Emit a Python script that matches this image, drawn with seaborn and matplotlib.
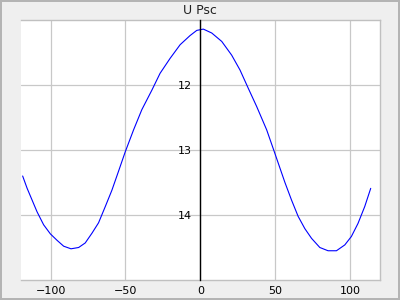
import matplotlib
matplotlib.use("Agg")
import matplotlib.pyplot as plt
from matplotlib.ticker import MultipleLocator, FixedLocator
import seaborn as sns
import pandas as pd

title = "U Psc"
phase = [-118.7, -115.7, -112.4, -109.1, -104.7, -100.2, -95.7, -91.3, -86.4, -81.3, -76.9,
         -72.4, -68.0, -63.5, -59.1, -54.7, -50.2, -44.6, -39.1, -32.4, -26.9, -20.2, -13.5,
         -6.9, -2.4, 2.0, 7.6, 14.3, 20.9, 26.5, 32.0, 37.6, 44.3, 49.3, 52.0, 56.5, 60.9,
         65.3, 69.8, 74.3, 79.8, 85.3, 90.9, 96.5, 100.9, 105.3, 109.8, 113.8]
mag = [13.40, 13.59, 13.77, 13.95, 14.15, 14.29, 14.39, 14.48, 14.52, 14.50, 14.43,
       14.28, 14.12, 13.87, 13.62, 13.33, 13.03, 12.69, 12.38, 12.08, 11.82, 11.59, 11.38,
       11.24, 11.16, 11.14, 11.20, 11.33, 11.54, 11.77, 12.05, 12.33, 12.69, 13.02, 13.20, 13.50, 13.77,
       14.02, 14.21, 14.36, 14.50, 14.55, 14.55, 14.46, 14.33, 14.13, 13.87, 13.59]

y_major = [12, 13, 14]
y_minor = [11.5, 12.5, 13.5, 14.5]

sns.set_style("white")
plt.rcParams['font.family'] = ['DejaVu Sans']

df = pd.DataFrame({"phase": phase, "mag": mag})

fig = plt.figure(figsize=(4, 3), dpi=100, facecolor="#efefef", edgecolor="#b4b4b4", linewidth=1.5)
ax = fig.add_axes([20.7/400, 20/300, (380-20.7)/400, 260/300])
ax.set_facecolor("white")

sns.lineplot(data=df, x="phase", y="mag", ax=ax, color="#0000ff", linewidth=0.8, sort=False)

ax.set_xlim(-120, 120)
ax.set_ylim(15, 11)
ax.set_xlabel("")
ax.set_ylabel("")
ax.set_title(title, fontsize=9, pad=4, color="#202020")

ax.xaxis.set_major_locator(MultipleLocator(50))
ax.xaxis.set_minor_locator(MultipleLocator(10))
ax.yaxis.set_major_locator(FixedLocator(y_major))
ax.yaxis.set_minor_locator(FixedLocator(y_minor))

ax.grid(True, which="major", color="#c8c8c8", linewidth=0.9)
ax.set_axisbelow(True)

for s in ["top", "right", "bottom"]:
    ax.spines[s].set_color("#c0c0c0")
    ax.spines[s].set_linewidth(1.0)
ax.spines["left"].set_position(("data", 0))
ax.spines["left"].set_color("black")
ax.spines["left"].set_linewidth(1.0)
ax.spines["left"].set_zorder(3)

ax.tick_params(axis="x", which="major", direction="in", length=5, width=0.8, color="black",
               labelsize=8, pad=4, labelcolor="black")
ax.tick_params(axis="x", which="minor", direction="in", length=3, width=0.8, color="black")
ax.tick_params(axis="y", which="major", direction="in", length=6, width=0.8, color="black",
               labelsize=8, pad=6, labelcolor="black")
ax.tick_params(axis="y", which="minor", direction="in", length=3, width=0.8, color="black")

fig.savefig("out.png", dpi=100, facecolor=fig.get_facecolor(), edgecolor=fig.get_edgecolor())
